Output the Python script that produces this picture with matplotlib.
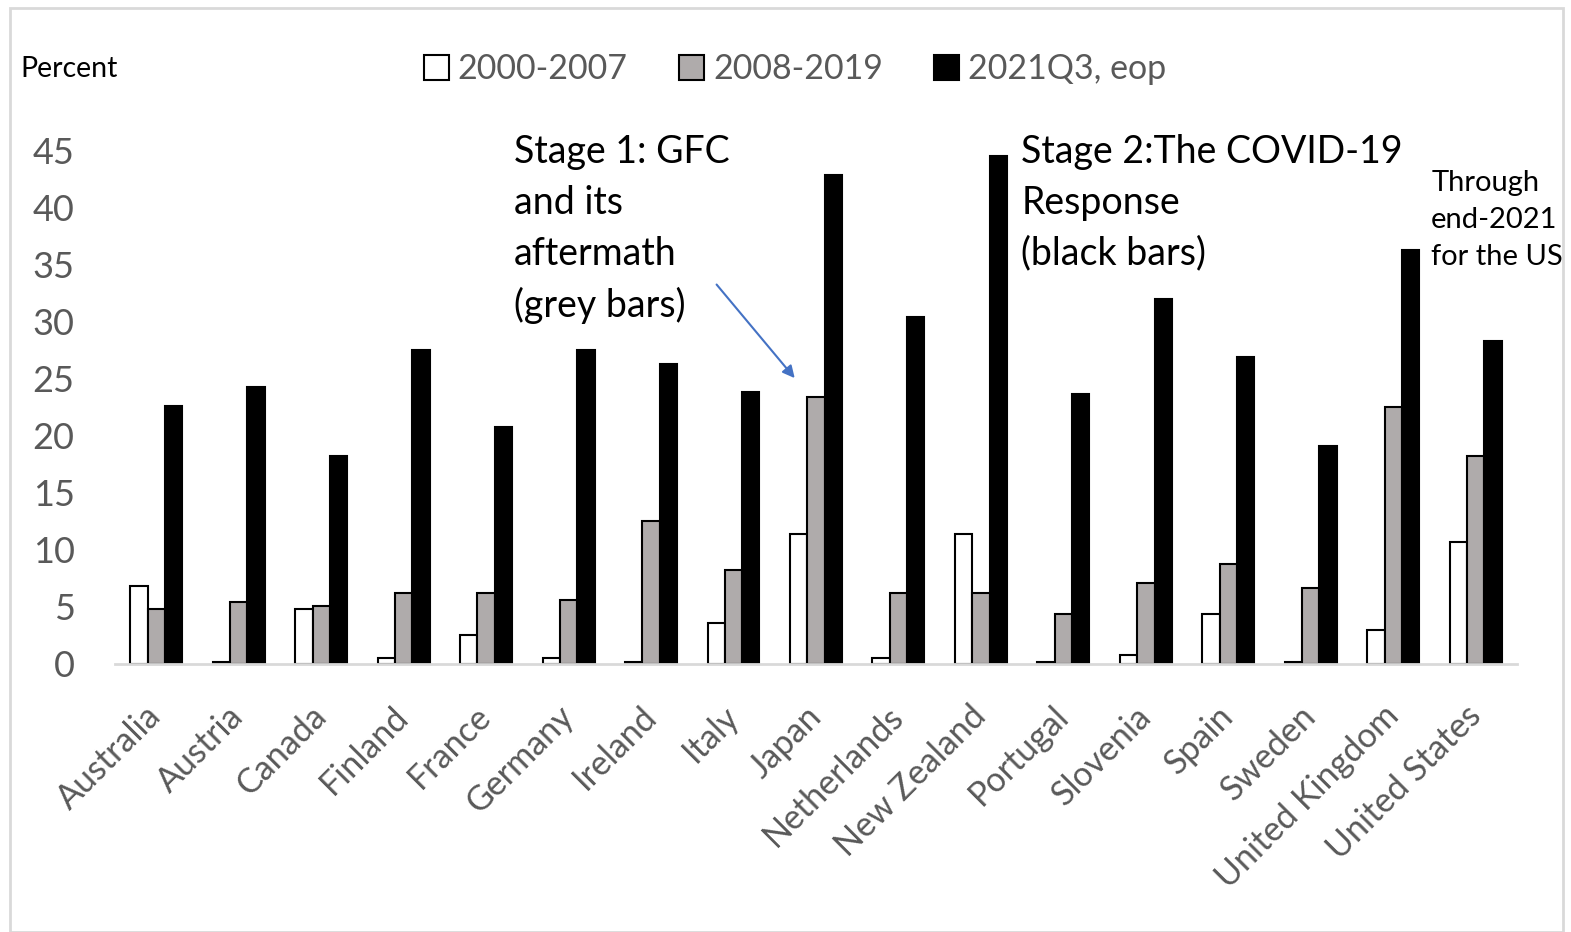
import matplotlib.pyplot as plt
import numpy as np
from matplotlib.patches import Rectangle

plt.rcParams["font.family"] = ["Lato", "DejaVu Sans"]

countries = ["Australia", "Austria", "Canada", "Finland", "France", "Germany",
             "Ireland", "Italy", "Japan", "Netherlands", "New Zealand", "Portugal",
             "Slovenia", "Spain", "Sweden", "United Kingdom", "United States"]
avg_2000_2007 = [6.8, 0.2, 4.8, 0.5, 2.5, 0.5, 0.2, 3.6, 11.4, 0.5, 11.4, 0.2,
                 0.8, 4.4, 0.2, 3.0, 10.7]
avg_2008_2019 = [4.8, 5.4, 5.1, 6.2, 6.2, 5.6, 12.5, 8.2, 23.4, 6.2, 6.2, 4.4,
                 7.1, 8.8, 6.7, 22.5, 18.2]
q3_2021 = [22.6, 24.3, 18.2, 27.5, 20.8, 27.5, 26.3, 23.9, 42.9, 30.4, 44.6, 23.7,
           32.0, 26.9, 19.1, 36.3, 28.3]
yticks = [0, 5, 10, 15, 20, 25, 30, 35, 40, 45]

fig = plt.figure(figsize=(15.71, 9.32), dpi=100)
ax = fig.add_axes([0.0732, 0.2876, 0.8924, 0.5504])

x = np.arange(len(countries))
w = 0.21
kw = dict(edgecolor="black", linewidth=1.5, clip_on=False)
ax.bar(x - w, avg_2000_2007, w, color="white", label="2000-2007", **kw)
ax.bar(x, avg_2008_2019, w, color="#AFABAB", label="2008-2019", **kw)
ax.bar(x + w, q3_2021, w, color="black", label="2021Q3, eop", **kw)

ax.set_xlim(-0.5, len(countries) - 0.5)
ax.set_ylim(0, 45)
ax.set_yticks(yticks)
ax.tick_params(axis="y", length=0, labelsize=26, labelcolor="#595959", pad=29)
ax.set_xticks(x)
ax.set_xticklabels(countries, rotation=45, ha="right", va="center",
                   rotation_mode="anchor", fontsize=24.5, color="#595959")
ax.tick_params(axis="x", length=0, pad=34)
for s in ["top", "right", "left"]:
    ax.spines[s].set_visible(False)
ax.spines["bottom"].set_color("#D9D9D9")
ax.spines["bottom"].set_linewidth(2)

ax.legend(loc="center", bbox_to_anchor=(0.506, 0.926), bbox_transform=fig.transFigure,
          ncol=3, frameon=False, fontsize=24.5, labelcolor="#595959",
          handlelength=0.75, handleheight=0.75, handletextpad=0.25, columnspacing=1.5)

fig.text(0.013, 0.926, "Percent", fontsize=20.5, va="center", ha="left")

ax.text(0.327, 0.856, "Stage 1: GFC\nand its\naftermath\n(grey bars)",
        transform=fig.transFigure, fontsize=27, va="top", ha="left", linespacing=1.51)
ax.text(0.650, 0.856, "Stage 2:The COVID-19\nResponse\n(black bars)",
        transform=fig.transFigure, fontsize=27, va="top", ha="left", linespacing=1.51)
ax.text(0.911, 0.818, "Through\nend-2021\nfor the US",
        transform=fig.transFigure, fontsize=21, va="top", ha="left", linespacing=1.53)

ax.annotate("", xy=(0.507, 0.592), xytext=(0.455, 0.697),
            xycoords="figure fraction", textcoords="figure fraction",
            arrowprops=dict(arrowstyle="-|>", color="#4472C4", lw=1.5, mutation_scale=18))

# light grey frame round the whole chart
fig.patches.append(Rectangle((0.0065, 0.0), 0.9885, 0.991, transform=fig.transFigure,
                             fill=False, edgecolor="#D9D9D9", linewidth=2))

fig.savefig("out.png", dpi=100)
